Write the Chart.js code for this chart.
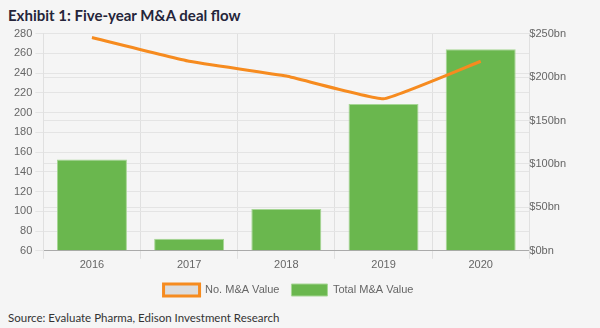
<!DOCTYPE html>
<html>
<head>
<meta charset="utf-8">
<script src="https://cdn.jsdelivr.net/npm/chart.js@4.4.1/dist/chart.umd.min.js"></script>
<style>
    body { margin: 0; background: #f5f5f5; width: 600px; height: 328px; overflow: hidden; position: relative; }
    h1 { position: absolute; left: 8px; top: 6px; margin: 0; font: bold 15px Lato, sans-serif; color: #25253a; }
    #wrap { position: absolute; left: 0; top: 24px; width: 600px; height: 284px; }
    .src { position: absolute; left: 8px; top: 311px; font: 11.5px Lato, sans-serif; color: #333; }
</style>
</head>
<body>
<h1>Exhibit 1: Five-year M&amp;A deal flow</h1>
<div id="wrap"><canvas id="chart"></canvas></div>
<div class="src">Source: Evaluate Pharma, Edison Investment Research</div>
<script>
    const years = ['2016', '2017', '2018', '2019', '2020'];
    const dealCount = [276, 252, 237, 214, 252];      // left axis
    const dealValueBn = [105, 14, 48, 169, 232];      // right axis, $bn
    const countTicks = [60, 280, 20];                  // min, max, step
    const valueTicks = [0, 250, 50];

    const ctx = document.getElementById('chart').getContext('2d');
    Chart.defaults.font.family = 'Liberation Sans, Arial, sans-serif';
    Chart.defaults.font.size = 11;
    Chart.defaults.color = '#666';

    new Chart(ctx, {
        data: {
            labels: years,
            datasets: [{
                type: 'line',
                label: 'No. M&A Value',
                data: dealCount,
                yAxisID: 'count',
                borderColor: '#f68b1f',
                backgroundColor: '#dddddd',
                borderWidth: 3,
                pointRadius: 0,
                tension: 0.1,
                fill: false
            }, {
                type: 'bar',
                label: 'Total M&A Value',
                data: dealValueBn,
                yAxisID: 'value',
                backgroundColor: '#6ab74e',
                borderColor: '#a6d694',
                borderWidth: 1
            }]
        },
        options: {
            responsive: true,
            maintainAspectRatio: false,
            animation: false,
            layout: { padding: { left: 11, right: 34, top: 7, bottom: 2 } },
            plugins: {
                legend: {
                    position: 'bottom',
                    labels: { boxWidth: 36, boxHeight: 12, padding: 12 }
                },
                tooltip: { enabled: false }
            },
            scales: {
                x: {
                    grid: { color: '#e0e0e0', offset: true },
                    border: { color: '#aaa' },
                    ticks: { padding: 0 }
                },
                count: {
                    position: 'left',
                    min: countTicks[0],
                    max: countTicks[1],
                    ticks: { stepSize: countTicks[2] },
                    grid: { color: '#e4e4e4' },
                    border: { color: '#e0e0e0' }
                },
                value: {
                    position: 'right',
                    min: valueTicks[0],
                    max: valueTicks[1],
                    ticks: {
                        stepSize: valueTicks[2],
                        padding: 0,
                        callback: v => '$' + v + 'bn'
                    },
                    grid: { color: '#e4e4e4', drawTicks: false },
                    border: { color: '#e0e0e0' }
                }
            }
        }
    });
</script>
</body>
</html>
